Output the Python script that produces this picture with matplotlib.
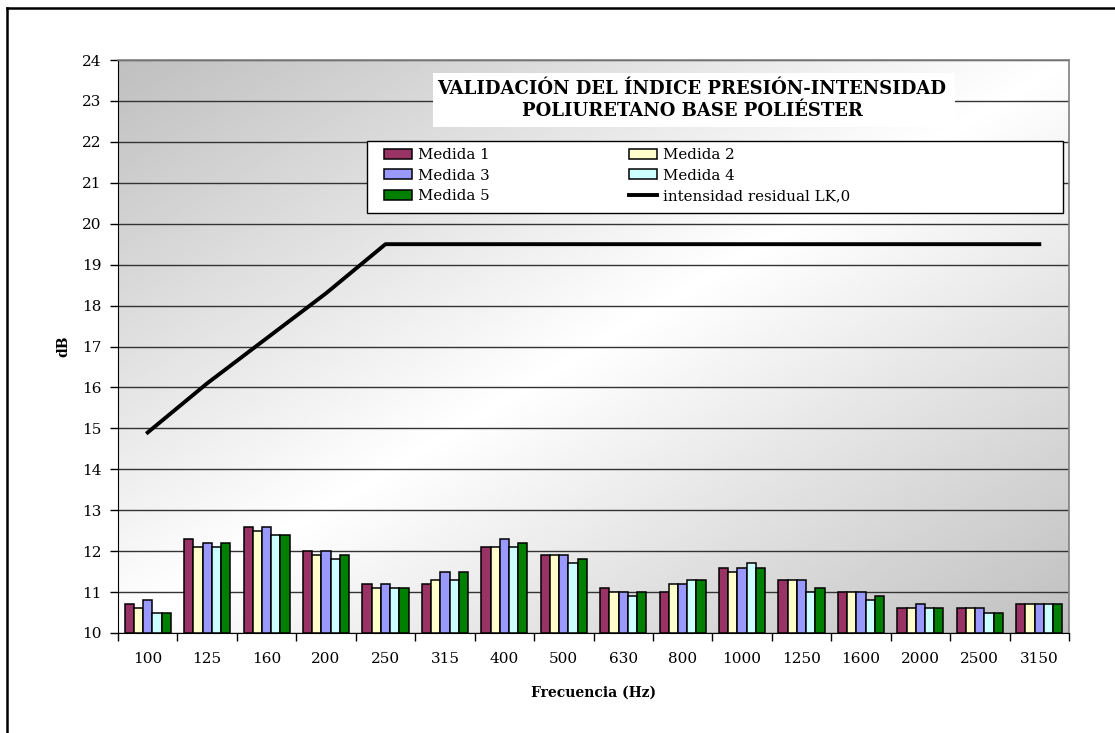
import numpy as np
import matplotlib
matplotlib.use("Agg")
import matplotlib.pyplot as plt
from matplotlib.patches import Rectangle
from matplotlib.lines import Line2D

# data
frecuencias = ['100', '125', '160', '200', '250', '315', '400', '500', '630',
               '800', '1000', '1250', '1600', '2000', '2500', '3150']
medida1 = [10.7, 12.3, 12.6, 12.0, 11.2, 11.2, 12.1, 11.9, 11.1, 11.0, 11.6, 11.3, 11.0, 10.6, 10.6, 10.7]
medida2 = [10.6, 12.1, 12.5, 11.9, 11.1, 11.3, 12.1, 11.9, 11.0, 11.2, 11.5, 11.3, 11.0, 10.6, 10.6, 10.7]
medida3 = [10.8, 12.2, 12.6, 12.0, 11.2, 11.5, 12.3, 11.9, 11.0, 11.2, 11.6, 11.3, 11.0, 10.7, 10.6, 10.7]
medida4 = [10.5, 12.1, 12.4, 11.8, 11.1, 11.3, 12.1, 11.7, 10.9, 11.3, 11.7, 11.0, 10.8, 10.6, 10.5, 10.7]
medida5 = [10.5, 12.2, 12.4, 11.9, 11.1, 11.5, 12.2, 11.8, 11.0, 11.3, 11.6, 11.1, 10.9, 10.6, 10.5, 10.7]
residual = [14.9, 16.1, 17.2, 18.3, 19.5, 19.5, 19.5, 19.5, 19.5, 19.5, 19.5, 19.5, 19.5, 19.5, 19.5, 19.5]

series = [medida1, medida2, medida3, medida4, medida5]
nombres = ['Medida 1', 'Medida 2', 'Medida 3', 'Medida 4', 'Medida 5']
colores = ['#993366', '#FFFFCC', '#9999FF', '#CCFFFF', '#008000']

plt.rcParams['font.family'] = ['DejaVu Serif']

W, H = 1115, 733
fig = plt.figure(figsize=(W / 100, H / 100), dpi=100)
ax = fig.add_axes([118 / W, 100 / H, 951 / W, 573 / H])

# gray-white-gray diagonal background
gx, gy = np.meshgrid(np.linspace(0, 1, 300), np.linspace(1, 0, 300))
grad = 1 - 0.25 * np.abs(gx - gy)
ax.imshow(grad, cmap='gray', vmin=0, vmax=1, extent=[0, 1, 0, 1],
          transform=ax.transAxes, aspect='auto', zorder=0, interpolation='bilinear')

x = np.arange(len(frecuencias))
w = 0.155
for i, (vals, nom, col) in enumerate(zip(series, nombres, colores)):
    ax.bar(x + (i - 2) * w, np.array(vals) - 10, width=w, bottom=10, color=col,
           edgecolor='black', linewidth=1.1, label=nom, zorder=3)

ax.plot(x, residual, color='black', linewidth=2.8, zorder=4,
        label='intensidad residual LK,0')

ax.set_xlim(-0.5, len(frecuencias) - 0.5)
ax.set_ylim(10, 24)
ax.set_yticks(range(10, 25))
ax.yaxis.grid(True, color='#333333', linewidth=1)
ax.set_axisbelow(True)
for ln in ax.get_ygridlines():
    ln.set_zorder(1)

ax.set_xticks(x)
ax.set_xticklabels(frecuencias)
ax.set_xticks(np.arange(-0.5, len(frecuencias)), minor=True)
ax.tick_params(axis='x', which='major', length=0, pad=14, labelsize=11)
ax.tick_params(axis='x', which='minor', length=6, width=1, color='black', direction='out')
ax.tick_params(axis='y', length=6, width=1, labelsize=11, pad=6)

ax.spines['left'].set_color('black')
ax.spines['bottom'].set_color('black')
ax.spines['top'].set_color('#808080')
ax.spines['right'].set_color('#808080')
for s in ['top', 'right']:
    ax.spines[s].set_linewidth(1.2)

ax.set_ylabel('dB', fontsize=10, fontweight='bold', labelpad=8)
ax.set_xlabel('Frecuencia (Hz)', fontsize=10, fontweight='bold', labelpad=14)

# title box inside plot area
fig.patches.append(Rectangle((433 / W, 1 - 127 / H), 522 / W, 54 / H,
                             transform=fig.transFigure, facecolor='white',
                             edgecolor='none', zorder=5))
fig.text(692 / W, 1 - 100 / H,
         'VALIDACIÓN DEL ÍNDICE PRESIÓN-INTENSIDAD\nPOLIURETANO BASE POLIÉSTER',
         ha='center', va='center', fontsize=13, fontweight='bold',
         linespacing=1.3, zorder=6)

# legend frame drawn separately, entries placed inside it
fig.patches.append(Rectangle((367 / W, 1 - 213 / H), 696 / W, 72 / H,
                             transform=fig.transFigure, facecolor='white',
                             edgecolor='black', linewidth=1.0, zorder=8))
h, l = ax.get_legend_handles_labels()
order = [1, 3, 5, 2, 4, 0]
handles = [h[i] for i in order]
labels = [l[i] for i in order]
leg = fig.legend(handles, labels, ncol=2, loc='upper left',
                 bbox_to_anchor=(384 / W, 1 - 148 / H),
                 bbox_transform=fig.transFigure, fontsize=10.8,
                 frameon=False, borderaxespad=0, borderpad=0, labelspacing=0.45,
                 handlelength=1.85, handleheight=0.65, handletextpad=0.4,
                 columnspacing=9.3)
leg.set_zorder(10)

# outer border (top and left visible)
fig.add_artist(Line2D([7 / W, 7 / W], [0, 1 - 8 / H], transform=fig.transFigure,
                      color='black', linewidth=1.8))
fig.add_artist(Line2D([7 / W, 1], [1 - 8 / H, 1 - 8 / H], transform=fig.transFigure,
                      color='black', linewidth=1.8))

fig.savefig('out.png', dpi=100, facecolor='white')
